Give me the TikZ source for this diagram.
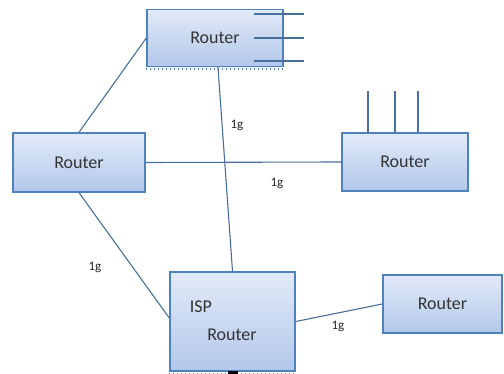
\documentclass[tikz,border=0pt]{standalone}
\usepackage{fontspec}
\setmainfont{Carlito}
\definecolor{boxedge}{RGB}{79,129,189}
\definecolor{boxtop}{RGB}{226,234,248}
\definecolor{boxbot}{RGB}{178,200,234}
\definecolor{linkc}{RGB}{72,110,156}
\tikzset{
	rtr/.style={draw=boxedge,line width=1.4pt,top color=boxtop,bottom color=boxbot,inner sep=0pt,font=\fontsize{18}{20}\selectfont,text=black!80},
	lnk/.style={linkc,line width=1.1pt},
	speed/.style={font=\fontsize{13}{14}\selectfont,text=black!85}
}
\begin{document}
\begin{tikzpicture}[x=1pt,y=-1pt]
	\useasboundingbox (0,0) rectangle (504,374);
	% routers
	\node[rtr,minimum width=136pt,minimum height=57pt] (top) at (215,38) {Router};
	\node[rtr,minimum width=132pt,minimum height=59pt] (left) at (79,162.5) {Router};
	\node[rtr,minimum width=126pt,minimum height=58pt] (right) at (405,162) {Router};
	\node[rtr,minimum width=125pt,minimum height=99pt] (isp) at (232.5,321.5) {};
	\node[rtr,minimum width=119pt,minimum height=58pt] (br) at (442.5,304) {Router};
	\node[font=\fontsize{18}{20}\selectfont,text=black!80] (isptxt) at (201,307) {ISP};
	\node[font=\fontsize{18}{20}\selectfont,text=black!80] (isprtr) at (232,335) {Router};
	% ports
	\foreach \s in {24,0,-23}
		\draw[lnk] ([xshift=-30pt,yshift=\s pt]top.east) -- ([xshift=20pt,yshift=\s pt]top.east);
	\foreach \s in {-37,-10,13}
		\draw[lnk] ([xshift=\s pt]right.north) -- ([xshift=\s pt,yshift=41pt]right.north);
	\draw[boxedge,line width=2pt,dash pattern=on 1pt off 3pt] ([yshift=-2pt]top.south west) -- ([yshift=-2pt]top.south east);
	\draw[boxedge,line width=2pt,dash pattern=on 1pt off 3pt] ([yshift=-2pt]isp.south west) -- ([yshift=-2pt]isp.south east);
	\fill[black] ([xshift=-5pt,yshift=-3pt]isp.south) rectangle ([xshift=5pt,yshift=1pt]isp.south);
	% links
	\draw[lnk] (left.north) -- (top.west);
	\draw[lnk] ([xshift=3pt]top.south) -- (isp.north);
	\draw[lnk] (left.east) -- (right.west);
	\draw[lnk] (left.south) -- ([yshift=3.5pt]isp.west);
	\draw[lnk] (isp.east) -- (br.west);
	\node[speed] (s1) at (237,125) {1g};
	\node[speed] (s2) at (277,183) {1g};
	\node[speed] (s3) at (95,267) {1g};
	\node[speed] (s4) at (338,326) {1g};
\end{tikzpicture}
\end{document}
